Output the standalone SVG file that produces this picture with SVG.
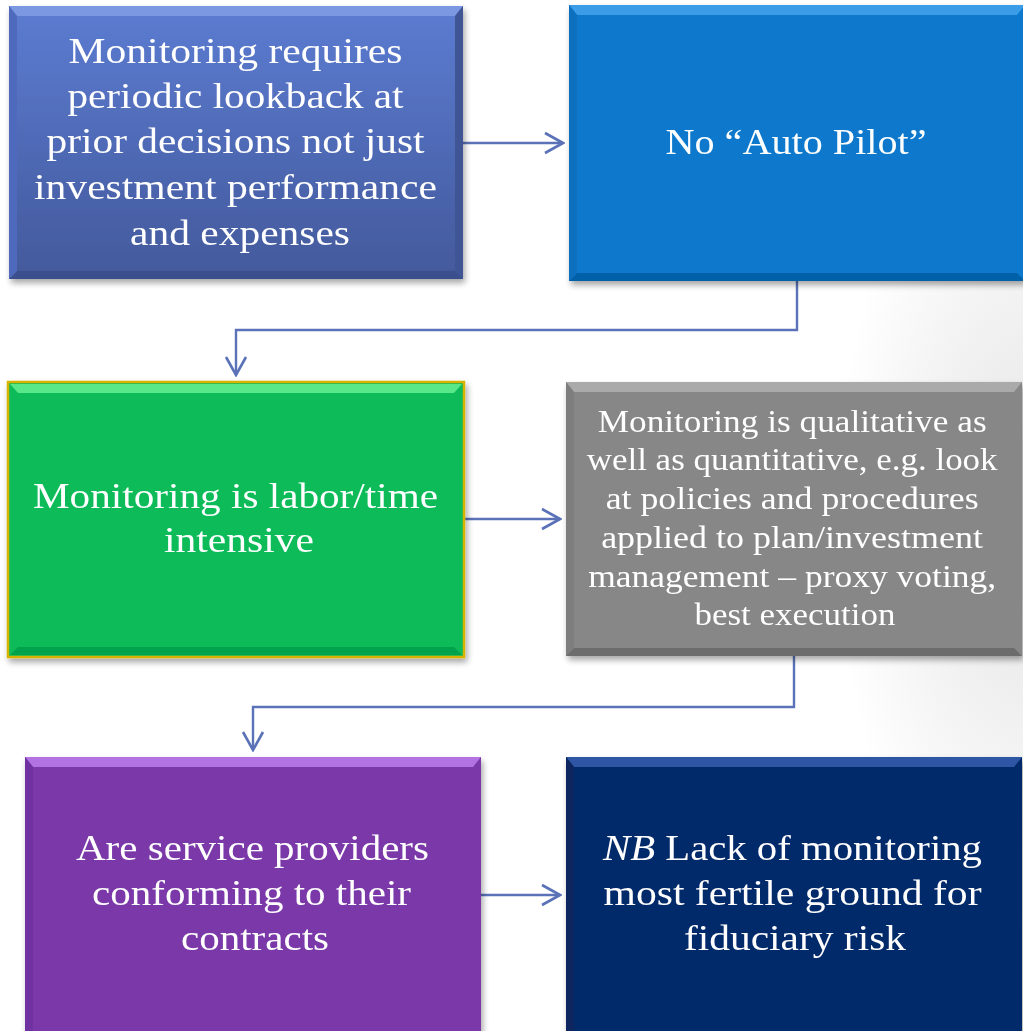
<svg xmlns="http://www.w3.org/2000/svg" width="1023" height="1031" viewBox="0 0 1023 1031">
  <defs>
    <radialGradient id="bgShade" cx="1023" cy="520" r="420" gradientUnits="userSpaceOnUse" gradientTransform="translate(1023 520) scale(0.45 1) translate(-1023 -520)">
      <stop offset="0" stop-color="#e4e4e4"/>
      <stop offset="1" stop-color="#ffffff"/>
    </radialGradient>
    <linearGradient id="g1" x1="0" y1="0" x2="0" y2="1">
      <stop offset="0" stop-color="#5c7cd2"/>
      <stop offset="1" stop-color="#43599b"/>
    </linearGradient>
    <filter id="shadow" x="-10%" y="-10%" width="125%" height="125%">
      <feGaussianBlur in="SourceAlpha" stdDeviation="3"/>
      <feOffset dx="2" dy="4" result="b"/>
      <feComponentTransfer><feFuncA type="linear" slope="0.35"/></feComponentTransfer>
      <feMerge><feMergeNode/><feMergeNode in="SourceGraphic"/></feMerge>
    </filter>
    <marker id="chev" viewBox="0 0 22 24" refX="20" refY="12" markerWidth="22" markerHeight="24" markerUnits="userSpaceOnUse" orient="auto">
      <path d="M2 2 L20 12 L2 22" fill="none" stroke="#5b72b8" stroke-width="2.6"/>
    </marker>
    <style>
      .lbl { font-family: "Palatino Linotype", "Book Antiqua", "Liberation Serif", serif; fill: #ffffff; text-anchor: middle; }
      .big { font-size: 36px; }
      .small { font-size: 31px; }
      .conn { fill: none; stroke: #5b72b8; stroke-width: 2.4; marker-end: url(#chev); }
    </style>
  </defs>

  <!-- page background -->
  <rect width="1023" height="1031" fill="#ffffff"/>
  <rect width="1023" height="1031" fill="url(#bgShade)"/>

  <!-- connectors -->
  <g id="connectors">
    <path class="conn" d="M463 143 H563"/>
    <path class="conn" d="M797 281 V330 H236 V375"/>
    <path class="conn" d="M464 519 H560"/>
    <path class="conn" d="M794 656 V707 H253 V750"/>
    <path class="conn" d="M481 895 H560"/>
  </g>

  <!-- node 1 -->
  <g id="n1" filter="url(#shadow)">
    <rect x="9" y="6" width="454" height="273" fill="url(#g1)"/>
    <polygon points="9,6 463,6 455,16 17,16" fill="#7d98e2"/>
    <polygon points="9,279 463,279 455,271 17,271" fill="#3b4f8c"/>
    <polygon points="9,6 17,16 17,271 9,279" fill="#506bbd"/>
    <polygon points="463,6 455,16 455,271 463,279" fill="#3f5595"/>
    <text class="lbl big" x="240">
      <tspan x="240" y="63" textLength="334" lengthAdjust="spacingAndGlyphs">Monitoring requires</tspan>
      <tspan x="240" y="108" textLength="336" lengthAdjust="spacingAndGlyphs">periodic lookback at</tspan>
      <tspan x="240" y="153" textLength="378" lengthAdjust="spacingAndGlyphs">prior decisions not just</tspan>
      <tspan x="240" y="199" textLength="403" lengthAdjust="spacingAndGlyphs">investment performance</tspan>
      <tspan x="240" y="245" textLength="220" lengthAdjust="spacingAndGlyphs">and expenses</tspan>
    </text>
  </g>

  <!-- node 2 -->
  <g id="n2" filter="url(#shadow)">
    <rect x="569" y="5" width="456" height="276" fill="#0878cc"/>
    <polygon points="569,5 1025,5 1017,15 577,15" fill="#3a9ce8"/>
    <polygon points="569,281 1025,281 1017,273 577,273" fill="#0561a8"/>
    <polygon points="569,5 577,15 577,273 569,281" fill="#0a6fbe"/>
    <text class="lbl big" x="796" y="154" textLength="261" lengthAdjust="spacingAndGlyphs">No “Auto Pilot”</text>
  </g>

  <!-- node 3 -->
  <g id="n3" filter="url(#shadow)">
    <rect x="8" y="382" width="456" height="275" fill="#08bb58" stroke="#d8b200" stroke-width="2.5"/>
    <polygon points="10,384 462,384 454,393 18,393" fill="#58e88a"/>
    <polygon points="10,655 462,655 454,647 18,647" fill="#06a24b"/>
    <text class="lbl big" x="240">
      <tspan x="240" y="508" textLength="405" lengthAdjust="spacingAndGlyphs">Monitoring is labor/time</tspan>
      <tspan x="239" y="552" textLength="150" lengthAdjust="spacingAndGlyphs">intensive</tspan>
    </text>
  </g>

  <!-- node 4 -->
  <g id="n4" filter="url(#shadow)">
    <rect x="566" y="382" width="456" height="274" fill="#878787"/>
    <polygon points="566,382 1022,382 1014,392 574,392" fill="#aaaaaa"/>
    <polygon points="566,656 1022,656 1014,648 574,648" fill="#6c6c6c"/>
    <polygon points="566,382 574,392 574,648 566,656" fill="#7e7e7e"/>
    <text class="lbl small" x="796">
      <tspan x="796" y="432" textLength="389" lengthAdjust="spacingAndGlyphs">Monitoring is qualitative as</tspan>
      <tspan x="796" y="470" textLength="411" lengthAdjust="spacingAndGlyphs">well as quantitative, e.g. look</tspan>
      <tspan x="796" y="509" textLength="373" lengthAdjust="spacingAndGlyphs">at policies and procedures</tspan>
      <tspan x="796" y="548" textLength="382" lengthAdjust="spacingAndGlyphs">applied to plan/investment</tspan>
      <tspan x="796" y="587" textLength="408" lengthAdjust="spacingAndGlyphs">management – proxy voting,</tspan>
      <tspan x="795" y="625" textLength="201" lengthAdjust="spacingAndGlyphs">best execution</tspan>
    </text>
  </g>

  <!-- node 5 -->
  <g id="n5" filter="url(#shadow)">
    <rect x="25" y="757" width="456" height="280" fill="#7a38a8"/>
    <polygon points="25,757 481,757 473,767 33,767" fill="#b272e2"/>
    <polygon points="25,757 33,767 33,1037 25,1037" fill="#7030a0"/>
    <text class="lbl big" x="257">
      <tspan x="257" y="860" textLength="353" lengthAdjust="spacingAndGlyphs">Are service providers</tspan>
      <tspan x="256" y="905" textLength="319" lengthAdjust="spacingAndGlyphs">conforming to their</tspan>
      <tspan x="255" y="950" textLength="148" lengthAdjust="spacingAndGlyphs">contracts</tspan>
    </text>
  </g>

  <!-- node 6 -->
  <g id="n6" filter="url(#shadow)">
    <rect x="566" y="757" width="456" height="280" fill="#062a6a"/>
    <polygon points="566,757 1022,757 1014,767 574,767" fill="#2d56a4"/>
    <polygon points="566,757 574,767 574,1037 566,1037" fill="#08275e"/>
    <text class="lbl big" x="797">
      <tspan x="797" y="860" textLength="379" lengthAdjust="spacingAndGlyphs"><tspan font-style="italic">NB</tspan> Lack of monitoring</tspan>
      <tspan x="797" y="905" textLength="378" lengthAdjust="spacingAndGlyphs">most fertile ground for</tspan>
      <tspan x="795" y="950" textLength="222" lengthAdjust="spacingAndGlyphs">fiduciary risk</tspan>
    </text>
  </g>
</svg>
